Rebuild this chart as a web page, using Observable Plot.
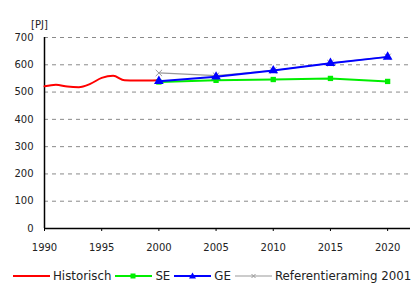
<!DOCTYPE html>
<html>
<head>
<meta charset="utf-8">
<script src="https://cdn.jsdelivr.net/npm/d3@7"></script>
<script src="https://cdn.jsdelivr.net/npm/@observablehq/plot@0.6"></script>
<style>
  html, body { margin: 0; padding: 0; background: #fff; width: 416px; height: 286px; overflow: hidden; }
  #legend { display: flex; align-items: center; height: 20px; padding-left: 13px; white-space: nowrap;
            font-family: "DejaVu Sans", sans-serif; font-size: 11.8px; color: #222; overflow: hidden; width: 403px; }
  #legend svg { display: block; flex: none; }
  #legend span { margin: 0 4px 0 3px; flex: none; }
</style>
</head>
<body>
<div id="chart"></div>
<div id="legend"></div>
<script>
const histYears = [1990, 1991, 1992, 1993, 1994, 1995, 1996, 1997, 1998, 1999, 2000];
const histValues = [521, 527, 520, 518, 530, 552, 560, 543, 542, 542, 543];
const projYears = [2000, 2005, 2010, 2015, 2020];
const seValues = [537, 543, 546, 550, 539];
const geValues = [540, 556, 579, 606, 629];
const refValues = [570, 560, 579, 606, 629];
const yTicks = [0, 100, 200, 300, 400, 500, 600, 700];
const gridTicks = [100, 200, 300, 400, 500, 600, 700];
const xTicks = [1990, 1995, 2000, 2005, 2010, 2015, 2020];
const seriesNames = ["Historisch", "SE", "GE", "Referentieraming 2001"];
const seriesColors = ["#ff0000", "#00ee00", "#0000ff", "#999999"];

const hist = histYears.map((y, i) => ({year: y, value: histValues[i]}));
const se = projYears.map((y, i) => ({year: y, value: seValues[i]}));
const ge = projYears.map((y, i) => ({year: y, value: geValues[i]}));
const ref = projYears.map((y, i) => ({year: y, value: refValues[i]}));

const chart = Plot.plot({
  width: 416,
  height: 266,
  marginLeft: 44,
  marginRight: 6,
  marginTop: 37,
  marginBottom: 38,
  style: {fontFamily: "DejaVu Sans, sans-serif", fontSize: "10px", color: "#222", background: "#fff"},
  x: {domain: [1990, 2022], label: null},
  y: {domain: [0, 700], label: null},
  marks: [
    Plot.ruleY(gridTicks, {stroke: "#8a8a8a", strokeWidth: 1, strokeDasharray: "4,4"}),
    Plot.axisY({ticks: yTicks, tickSize: 0, tickPadding: 11, tickFormat: d => String(d)}),
    Plot.axisX({ticks: xTicks, tickSize: 3, tickPadding: 12, tickFormat: d => String(d), stroke: "#000"}),
    Plot.ruleX([1990], {stroke: "#000", strokeWidth: 1.5}),
    Plot.ruleY([0], {stroke: "#000", strokeWidth: 1.5}),
    Plot.line(ref, {x: "year", y: "value", stroke: seriesColors[3], strokeWidth: 1.2}),
    Plot.dot(ref, {x: "year", y: "value", symbol: "times", r: 3, stroke: seriesColors[3], strokeWidth: 1}),
    Plot.line(hist, {x: "year", y: "value", stroke: seriesColors[0], strokeWidth: 2, curve: "monotone-x"}),
    Plot.line(se, {x: "year", y: "value", stroke: seriesColors[1], strokeWidth: 2}),
    Plot.dot(se, {x: "year", y: "value", symbol: "square", r: 3, fill: seriesColors[1], stroke: "none"}),
    Plot.line(ge, {x: "year", y: "value", stroke: seriesColors[2], strokeWidth: 2}),
    Plot.dot(ge, {x: "year", y: "value", symbol: "triangle", r: 3.6, fill: seriesColors[2], stroke: "none"}),
    Plot.text(["[PJ]"], {frameAnchor: "top-left", dx: -5, dy: -17, textAnchor: "middle", fill: "#222", fontSize: 10})
  ]
});
document.getElementById("chart").appendChild(chart);

// Legend
const legend = document.getElementById("legend");
const markers = ["none", "square", "triangle", "times"];
seriesNames.forEach((name, i) => {
  const svg = d3.create("svg").attr("width", 37).attr("height", 12);
  svg.append("line").attr("x1", 0).attr("x2", 37).attr("y1", 6).attr("y2", 6)
    .attr("stroke", seriesColors[i]).attr("stroke-width", i === 3 ? 1.2 : 2);
  if (markers[i] === "square") svg.append("rect").attr("x", 15.5).attr("y", 3.5).attr("width", 5).attr("height", 5).attr("fill", seriesColors[i]);
  if (markers[i] === "triangle") svg.append("path").attr("d", "M18.5,2.5L22,8.5L15,8.5Z").attr("fill", seriesColors[i]);
  if (markers[i] === "times") svg.append("path").attr("d", "M16.5,4L20.5,8M20.5,4L16.5,8").attr("stroke", seriesColors[i]).attr("stroke-width", 1);
  legend.appendChild(svg.node());
  const s = document.createElement("span");
  s.textContent = name;
  legend.appendChild(s);
});
</script>
</body>
</html>
